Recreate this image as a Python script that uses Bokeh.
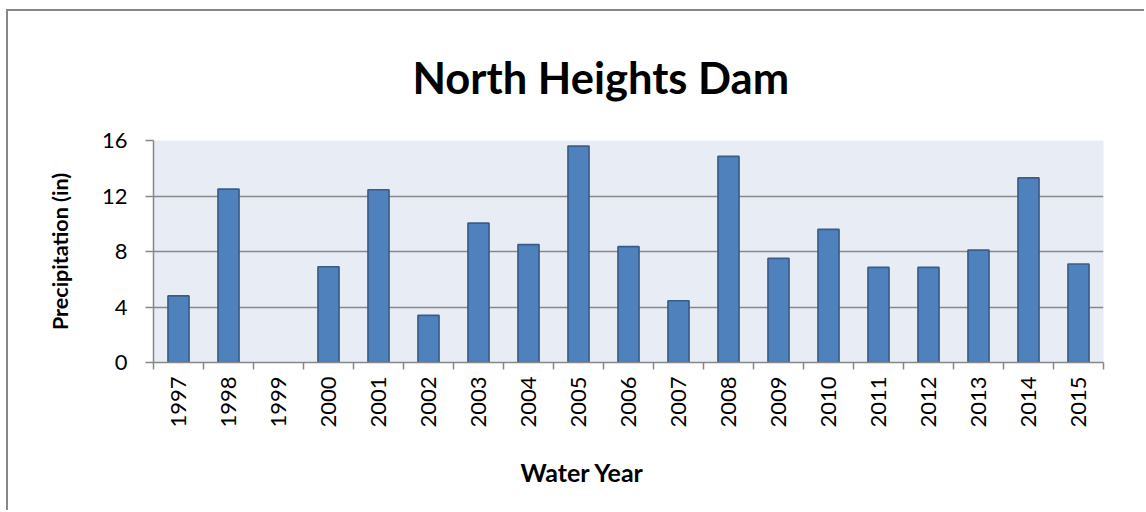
import numpy as np
from bokeh.plotting import figure
from bokeh.models import (ColumnDataSource, FixedTicker, Range1d, Title,
                          InlineStyleSheet)
from bokeh.embed import file_html
from bokeh.resources import INLINE

# ---- data ----
years = ["1997", "1998", "1999", "2000", "2001", "2002", "2003", "2004",
         "2005", "2006", "2007", "2008", "2009", "2010", "2011", "2012",
         "2013", "2014", "2015"]
precip = [4.8, 12.5, float("nan"), 6.9, 12.45, 3.4, 10.05, 8.5,
          15.6, 8.35, 4.45, 14.85, 7.5, 9.6, 6.85, 6.85,
          8.1, 13.3, 7.1]
y_ticks = [0, 4, 8, 12, 16]

FONT = "Lato"
GRID = "#878787"

n = len(years)
centers = [i + 0.5 for i in range(n)]
bounds = [float(i) for i in range(n + 1)]

src = ColumnDataSource(dict(x=centers, top=precip))

p = figure(width=1138, height=501, output_backend="svg", toolbar_location=None,
           x_range=Range1d(0, n), y_range=Range1d(0, 16),
           min_border_left=145, min_border_right=43,
           min_border_top=129, min_border_bottom=150)

p.margin = (9, 0, 0, 6)
p.stylesheets = [InlineStyleSheet(
    css=":host { border-left: 2px solid #878787; border-top: 2px solid #878787; }")]

p.background_fill_color = "#E8ECF4"
p.border_fill_color = "white"
p.outline_line_color = None

p.vbar(x="x", top="top", bottom=0, width=0.42, source=src,
       fill_color="#4F81BD", line_color="#385D8A", line_width=1.7)

# title
p.title.text = "North Heights Dam"
p.title.text_font = FONT
p.title.text_font_size = "43.5px"
p.title.text_font_style = "bold"
p.title.text_color = "black"
p.title.align = "left"
p.title.offset = 259
p.title.standoff = 75

# y axis
yax = p.yaxis[0]
yax.ticker = FixedTicker(ticks=y_ticks, minor_ticks=[])
yax.axis_line_color = GRID
yax.axis_line_width = 1.5
yax.major_tick_line_color = GRID
yax.major_tick_line_width = 1.5
yax.major_tick_out = 8
yax.major_tick_in = 0
yax.major_label_text_font = FONT
yax.major_label_text_font_size = "22px"
yax.major_label_text_color = "black"
yax.major_label_standoff = 18
yax.axis_label = "Precipitation (in)"
yax.axis_label_text_font = FONT
yax.axis_label_text_font_size = "21.5px"
yax.axis_label_text_font_style = "bold"
yax.axis_label_text_color = "black"
yax.axis_label_standoff = 26

# x axis: labels at centers, ticks at boundaries (minor ticks)
xax = p.xaxis[0]
xax.ticker = FixedTicker(ticks=centers, minor_ticks=bounds)
xax.major_label_overrides = {c: y for c, y in zip(centers, years)}
xax.major_label_orientation = np.pi / 2
xax.major_tick_line_color = None
xax.major_tick_out = 6
xax.major_tick_in = 0
xax.minor_tick_line_color = GRID
xax.minor_tick_line_width = 1.5
xax.minor_tick_out = 7
xax.minor_tick_in = 0
xax.axis_line_color = GRID
xax.axis_line_width = 1.5
xax.major_label_text_font = FONT
xax.major_label_text_font_size = "22px"
xax.major_label_text_color = "black"
xax.major_label_standoff = 7

p.xgrid.grid_line_color = None
p.ygrid.ticker = FixedTicker(ticks=y_ticks)
p.ygrid.grid_line_color = GRID
p.ygrid.grid_line_width = 1.5

xt = Title(text="Water Year", text_font=FONT, text_font_size="25px",
           text_font_style="bold", text_color="black",
           align="left", offset=367, standoff=49)
p.add_layout(xt, "below")

open("out.html", "w").write(file_html(p, INLINE))
